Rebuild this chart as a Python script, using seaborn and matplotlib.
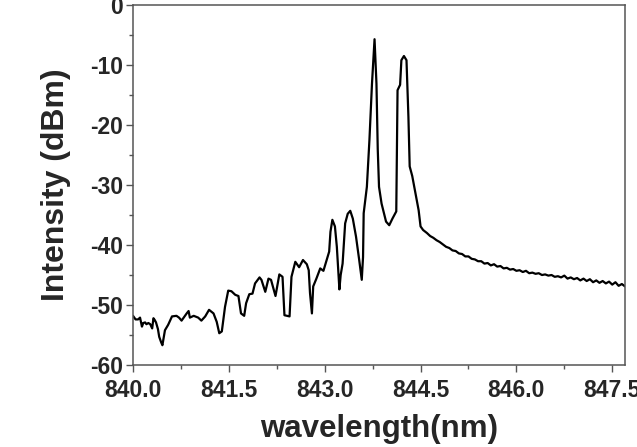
import matplotlib
matplotlib.use("Agg")
import matplotlib.pyplot as plt
import numpy as np
import pandas as pd
import seaborn as sns
from matplotlib.ticker import MultipleLocator, FormatStrFormatter

# spectrum (nm, dBm)
wavelength = [
    840.00, 840.04, 840.08, 840.11, 840.14, 840.16, 840.19, 840.21, 840.24, 840.27,
    840.30, 840.32, 840.34, 840.36, 840.39, 840.41, 840.44, 840.46, 840.48, 840.50,
    840.55, 840.61, 840.68, 840.72, 840.76, 840.80, 840.84, 840.87, 840.89, 840.95,
    841.02, 841.07, 841.13, 841.19, 841.26, 841.31, 841.35, 841.39, 841.44, 841.49,
    841.54, 841.60, 841.65, 841.69, 841.74, 841.77, 841.82, 841.87, 841.91, 841.98,
    842.01, 842.07, 842.12, 842.16, 842.23, 842.29, 842.34, 842.37, 842.45, 842.48,
    842.54, 842.60, 842.66, 842.72, 842.75, 842.77, 842.80, 842.82, 842.87, 842.93,
    842.98, 843.03, 843.07, 843.09, 843.12, 843.16, 843.19, 843.21, 843.23, 843.25,
    843.28, 843.32, 843.36, 843.40, 843.44, 843.49, 843.54, 843.58, 843.60, 843.61,
    843.66, 843.70, 843.74, 843.78, 843.81, 843.83, 843.85, 843.89, 843.96, 844.01,
    844.06, 844.12, 844.14, 844.18, 844.20, 844.24, 844.28, 844.31, 844.33, 844.37,
    844.41, 844.47, 844.50, 844.54,
    844.60, 844.65, 844.70, 844.75, 844.80, 844.85, 844.90, 844.95, 845.00, 845.05,
    845.10, 845.15, 845.20, 845.25, 845.30, 845.35, 845.40, 845.45, 845.50, 845.55,
    845.60, 845.65, 845.70, 845.75, 845.80, 845.85, 845.90, 845.95, 846.00, 846.05,
    846.10, 846.15, 846.20, 846.25, 846.30, 846.35, 846.40, 846.45, 846.50, 846.55,
    846.60, 846.65, 846.70, 846.75, 846.80, 846.85, 846.90, 846.95, 847.00, 847.05,
    847.10, 847.15, 847.20, 847.25, 847.30, 847.35, 847.40, 847.45, 847.50, 847.55,
    847.60, 847.65, 847.70,
]
intensity = [
    -51.8, -52.4, -52.4, -52.1, -53.6, -53.0, -52.9, -53.2, -53.0, -53.2,
    -53.9, -52.2, -52.5, -52.9, -54.0, -55.3, -56.2, -56.7, -55.5, -54.2,
    -53.3, -51.9, -51.8, -52.1, -52.6, -52.0, -51.4, -51.0, -52.1, -51.8,
    -52.1, -52.6, -51.9, -50.8, -51.4, -52.8, -54.7, -54.4, -50.3, -47.6,
    -47.7, -48.3, -48.5, -51.4, -51.8, -49.7, -48.2, -48.1, -46.4, -45.4,
    -45.8, -47.8, -45.6, -45.8, -48.5, -44.9, -45.3, -51.7, -51.9, -45.3,
    -42.8, -43.7, -42.5, -43.2, -44.2, -48.0, -51.4, -46.9, -45.6, -43.9,
    -44.3, -42.5, -41.1, -37.8, -35.8, -36.9, -40.3, -44.0, -47.4, -45.0,
    -43.1, -36.4, -34.8, -34.3, -35.6, -38.6, -42.5, -45.8, -42.0, -34.7,
    -30.3, -22.5, -13.1, -5.7, -13.1, -24.0, -30.3, -33.1, -36.1, -36.7,
    -35.6, -34.4, -14.2, -13.3, -9.2, -8.5, -9.2, -18.6, -26.9, -28.5,
    -30.8, -34.2, -36.9, -37.5,
    -38.0, -38.5, -38.8, -39.2, -39.5, -39.9, -40.3, -40.5, -40.9, -41.0,
    -41.4, -41.5, -41.9, -41.9, -42.3, -42.4, -42.7, -42.7, -43.1, -43.0,
    -43.4, -43.2, -43.6, -43.5, -43.9, -43.8, -44.1, -44.0, -44.3, -44.2,
    -44.5, -44.3, -44.7, -44.6, -44.8, -44.7, -45.0, -44.9, -45.1, -45.0,
    -45.3, -45.2, -45.4, -45.1, -45.6, -45.4, -45.7, -45.5, -45.9, -45.6,
    -46.0, -45.7, -46.2, -45.9, -46.3, -46.0, -46.4, -46.1, -46.6, -46.2,
    -46.8, -46.5, -46.9,
]

df = pd.DataFrame({"wavelength": wavelength, "intensity": intensity})

sns.set_style("ticks")
plt.rcParams["font.family"] = ["Liberation Sans", "DejaVu Sans"]
plt.rcParams["font.weight"] = "bold"
plt.rcParams["axes.unicode_minus"] = False

fig = plt.figure(figsize=(6.37, 4.47), dpi=100)
ax = fig.add_axes([0.2088, 0.1834, 0.9812 - 0.2088, 0.9888 - 0.1834])

sns.lineplot(data=df, x="wavelength", y="intensity", ax=ax, sort=False,
             color="black", linewidth=1.6)

ax.set_xlim(840.0, 847.7)
ax.set_ylim(-60, 0)
ax.xaxis.set_major_locator(MultipleLocator(1.5))
ax.xaxis.set_minor_locator(MultipleLocator(0.75))
ax.xaxis.set_major_formatter(FormatStrFormatter("%.1f"))
ax.yaxis.set_major_locator(MultipleLocator(10))
ax.yaxis.set_minor_locator(MultipleLocator(5))

for sp in ax.spines.values():
    sp.set_visible(True)
    sp.set_color("#555555")
    sp.set_linewidth(1.1)

ax.tick_params(which="major", direction="out", length=5, width=1.0,
               color="#555555", labelsize=16.5)
ax.tick_params(axis="x", which="major", pad=5)
ax.tick_params(axis="y", which="major", pad=2)
ax.tick_params(which="minor", direction="out", length=3, width=1.0,
               color="#555555")
for lbl in ax.get_xticklabels() + ax.get_yticklabels():
    lbl.set_fontweight("bold")

ax.set_xlabel("wavelength(nm)", fontsize=22.5, fontweight="bold", labelpad=9)
ax.set_ylabel("Intensity (dBm)", fontsize=23, fontweight="bold", labelpad=14)

fig.savefig("out.png", dpi=100)
